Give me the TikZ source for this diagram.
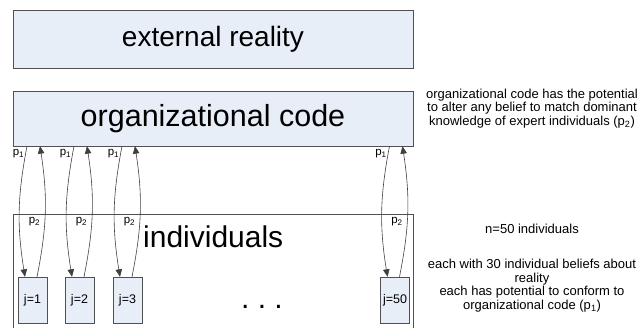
\documentclass[tikz,border=0pt]{standalone}
\usepackage{fontspec}
\setmainfont{Liberation Sans}
\usepackage{tikz}
\usetikzlibrary{arrows.meta}
\definecolor{boxfill}{RGB}{232, 238, 248}
\definecolor{edge}{RGB}{80, 80, 80}

\tikzset{
  bigbox/.style={draw=edge, fill=boxfill, minimum width=400pt, inner sep=0pt},
  jbox/.style={draw=edge, fill=boxfill, minimum width=29pt, minimum height=46pt,
               inner sep=0pt, font=\fontsize{12.5}{13}\selectfont},
  flow/.style={draw=black!75, line width=0.6pt, -{Triangle[length=7.5pt, width=6.5pt]}},
  plabel/.style={inner sep=0pt, font=\fontsize{11.5}{12}\selectfont},
  note/.style={align=center, inner sep=0pt, font=\fontsize{13}{13.7}\selectfont}
}

\begin{document}
\begin{tikzpicture}[x=1pt, y=-1pt]
  \useasboundingbox (0, 0) rectangle (641, 328);

  % the two layers on top
  \node[bigbox, minimum height=58pt, font=\fontsize{28}{30}\selectfont]
    (ext) at (213, 39) {external reality};
  \node[bigbox, minimum height=55pt, font=\fontsize{30.5}{31}\selectfont]
    (org) at (213, 118.5) {organizational code};

  % frame of the individuals
  \draw[edge, line width=0.6pt] (13, 330) |- (413, 214) -- (413, 330);
  \node[anchor=base west, inner sep=0pt, font=\fontsize{30}{30}\selectfont]
    (ind) at (143, 248) {individuals};
  \node[anchor=base, inner sep=0pt, font=\fontsize{30}{30}\selectfont]
    (dots) at (262, 309) {.\ .\ .};

  % one box per individual, with its two links to the code
  \foreach \n/\c in {1/32.5, 2/79.5, 3/127.5, 50/395} {
    \node[jbox] (box\n) at (\c, 300) {j=\n};

    \draw[flow] ([xshift=-5.5pt]org.south -| box\n.north)
      to[bend right=10] ([xshift=-7.5pt]box\n.north);
    \draw[flow] ([xshift=4.5pt]box\n.north)
      to[bend right=10] ([xshift=7.5pt]org.south -| box\n.north);

    \node[plabel, anchor=north] (pone\n) at (\c - 14, 149) {p\textsubscript{1}};
    \node[plabel, anchor=north] (ptwo\n) at (\c + 2, 217) {p\textsubscript{2}};
  }

  % notes on the right
  \node[note] (codenote) at (532, 108.5)
    {organizational code has the potential\\
     to alter any belief to match dominant\\
     knowledge of expert individuals (p\textsubscript{2})};
  \node[note] (countnote) at (532, 229) {n=50 individuals};
  \node[note] (beliefnote) at (532, 285.5)
    {each with 30 individual beliefs about\\
     reality\\
     each has potential to conform to\\
     organizational code (p\textsubscript{1})};

\end{tikzpicture}
\end{document}
